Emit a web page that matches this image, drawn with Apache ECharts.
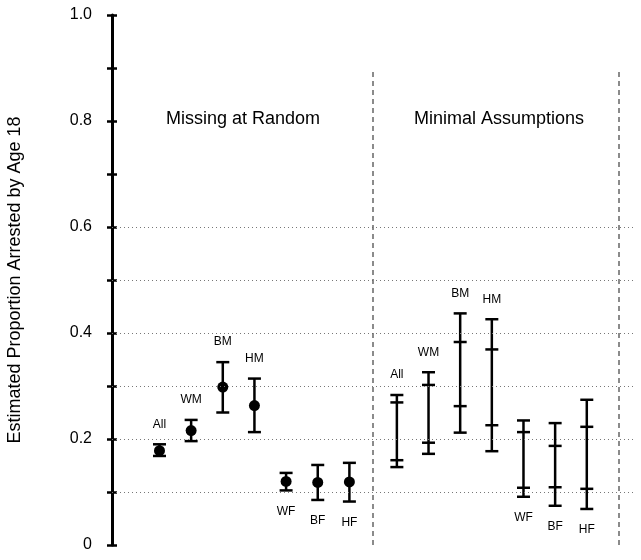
<!DOCTYPE html>
<html>
<head>
<meta charset="utf-8">
<script src="https://cdn.jsdelivr.net/npm/echarts@6/dist/echarts.min.js"></script>
<style>html,body{margin:0;padding:0;background:#fff;}#chart{width:641px;height:560px;}</style>
</head>
<body>
<div id="chart"></div>
<script>
// ---- data ----
const categories = ['All', 'WM', 'BM', 'HM', 'WF', 'BF', 'HF'];
// Missing at Random: point estimate with interval
const marPoint = [0.178, 0.216, 0.298, 0.263, 0.120, 0.118, 0.119];
const marLow   = [0.168, 0.196, 0.250, 0.213, 0.103, 0.085, 0.082];
const marHigh  = [0.190, 0.236, 0.345, 0.314, 0.136, 0.151, 0.155];
// Minimal Assumptions: outer and inner bounds
const maOuterLow  = [0.147, 0.172, 0.212, 0.177, 0.091, 0.074, 0.068];
const maInnerLow  = [0.160, 0.193, 0.262, 0.226, 0.108, 0.109, 0.106];
const maInnerHigh = [0.269, 0.302, 0.383, 0.369, 0.213, 0.187, 0.223];
const maOuterHigh = [0.283, 0.326, 0.437, 0.426, 0.235, 0.230, 0.274];
const labelAbove = [true, true, true, true, false, false, false];
const panelTitles = ['Missing at Random', 'Minimal Assumptions'];
const gridValues = [0.1, 0.2, 0.3, 0.4, 0.5, 0.6];
const dividerX = [8.25, 16];
const dividerTop = 0.9;
const yName = 'Estimated Proportion Arrested by Age 18';

// slot positions on the hidden x scale
const marX = categories.map((c, i) => i + 1.5);
const maX = categories.map((c, i) => i + 9);

const chart = echarts.init(document.getElementById('chart'), null, {renderer: 'canvas'});
const FONT = 'Liberation Sans, Arial, Helvetica, sans-serif';
const CAP = 6.5;
const LW = 2.5;

function capLine(x, y) {
  return {type: 'line', shape: {x1: x - CAP, y1: y, x2: x + CAP, y2: y}, style: {stroke: '#000', lineWidth: LW}};
}
function labelText(txt, x, y, above) {
  return {type: 'text', style: {text: txt, x: x, y: above ? y - 20 : y + 21, align: 'center', verticalAlign: 'middle',
    font: '12px ' + FONT, fill: '#000'}};
}

const option = {
  animation: false,
  grid: {left: 112, right: 8, top: 15, bottom: 15, containLabel: false, outerBoundsMode: 'none'},
  xAxis: {type: 'value', min: 0, max: 16.46, show: false},
  yAxis: [
    {type: 'value', min: 0, max: 1, interval: 0.1, position: 'left',
     name: yName, nameLocation: 'middle', nameGap: 88,
     nameTextStyle: {fontSize: 18, fontFamily: FONT, color: '#000'},
     axisLine: {show: true, lineStyle: {color: '#000', width: 3}},
     axisTick: {show: true, length: 5, lineStyle: {color: '#000', width: 2.5}},
     axisLabel: {margin: 20, fontSize: 16, fontFamily: FONT, color: '#000',
       formatter: v => {
         const k = Math.round(v * 10);
         if (k % 2 !== 0) return '';
         return k === 0 ? '0' : (k / 10).toFixed(1);
       }},
     splitLine: {show: false}},
    {type: 'value', min: 0, max: 1, interval: 0.1, position: 'left',
     axisLine: {show: false},
     axisTick: {show: true, inside: true, length: 5, lineStyle: {color: '#000', width: 2.5}},
     axisLabel: {show: false}, splitLine: {show: false}}
  ],
  graphic: [
    {type: 'text', left: 246 - 80, top: 110, style: {text: panelTitles[0], font: '18px ' + FONT, fill: '#000'}},
    {type: 'text', left: 500 - 86, top: 110, style: {text: panelTitles[1], font: '18px ' + FONT, fill: '#000'}}
  ],
  series: [
    {
      type: 'line', data: [], silent: true,
      markLine: {
        silent: true, symbol: 'none', label: {show: false},
        data: gridValues.map(v => ({yAxis: v, lineStyle: {type: [1, 3], color: '#777', width: 1}}))
          .concat(dividerX.map(x => [
            {coord: [x, 0], lineStyle: {type: [5, 4], color: '#666', width: 1.5}},
            {coord: [x, dividerTop]}
          ]))
      }
    },
    {
      type: 'custom', silent: true,
      data: categories.map((c, i) => [marX[i], marLow[i], marHigh[i], i]),
      renderItem: function (params, api) {
        const i = api.value(3);
        const lo = api.coord([api.value(0), api.value(1)]);
        const hi = api.coord([api.value(0), api.value(2)]);
        const x = lo[0];
        return {type: 'group', children: [
          {type: 'line', shape: {x1: x, y1: lo[1], x2: x, y2: hi[1]}, style: {stroke: '#000', lineWidth: LW}},
          capLine(x, lo[1]), capLine(x, hi[1]),
          labelText(categories[i], x, labelAbove[i] ? hi[1] : lo[1], labelAbove[i])
        ]};
      }
    },
    {
      type: 'scatter', symbol: 'circle', symbolSize: 11, silent: true,
      itemStyle: {color: '#000', opacity: 1},
      data: categories.map((c, i) => [marX[i], marPoint[i]])
    },
    {
      type: 'custom', silent: true,
      data: categories.map((c, i) => [maX[i], maOuterLow[i], maInnerLow[i], maInnerHigh[i], maOuterHigh[i], i]),
      renderItem: function (params, api) {
        const i = api.value(5);
        const xv = api.value(0);
        const p1 = api.coord([xv, api.value(1)]);
        const p2 = api.coord([xv, api.value(2)]);
        const p3 = api.coord([xv, api.value(3)]);
        const p4 = api.coord([xv, api.value(4)]);
        const x = p1[0];
        return {type: 'group', children: [
          {type: 'line', shape: {x1: x, y1: p1[1], x2: x, y2: p4[1]}, style: {stroke: '#000', lineWidth: LW}},
          capLine(x, p1[1]), capLine(x, p2[1]), capLine(x, p3[1]), capLine(x, p4[1]),
          labelText(categories[i], x, labelAbove[i] ? p4[1] : p1[1], labelAbove[i])
        ]};
      }
    }
  ]
};
chart.setOption(option);
</script>
</body>
</html>
